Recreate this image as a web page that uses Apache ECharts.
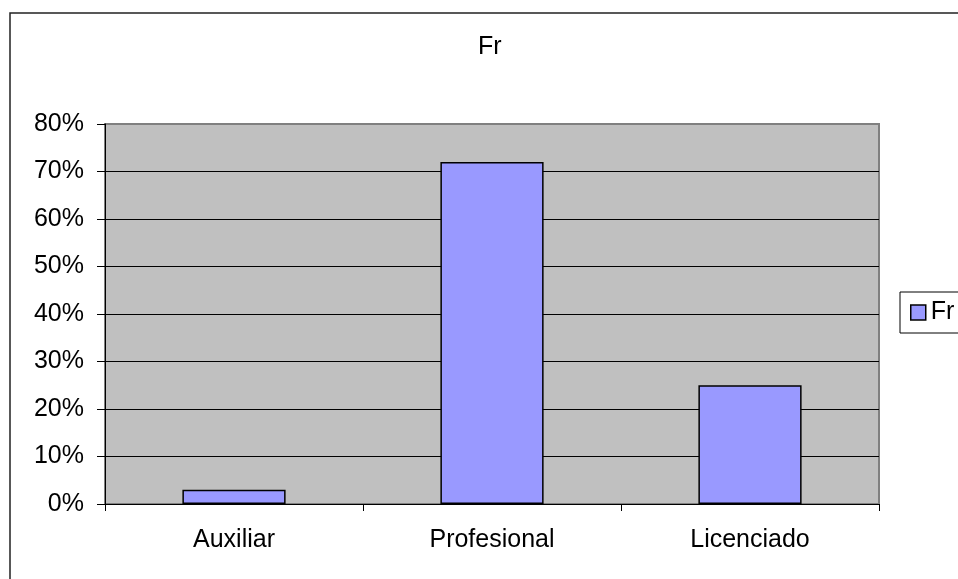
<!DOCTYPE html>
<html>
<head>
<meta charset="utf-8">
<script src="https://cdn.jsdelivr.net/npm/echarts@6/dist/echarts.min.js"></script>
<style>
html,body{margin:0;padding:0;background:#fff;}
#chart{width:958px;height:579px;}
</style>
</head>
<body>
<div id="chart"></div>
<script>
const categories = ['Auxiliar', 'Profesional', 'Licenciado'];
const frValues = [0.03, 0.72, 0.25];
const seriesName = 'Fr';
const chartTitle = 'Fr';

const FONT = '"Liberation Sans", Arial, sans-serif';
const chart = echarts.init(document.getElementById('chart'), null, {renderer: 'canvas'});
chart.setOption({
  animation: false,
  backgroundColor: '#ffffff',
  textStyle: {fontFamily: FONT},
  title: {
    text: chartTitle,
    left: 478,
    top: 35,
    padding: 0,
    textStyle: {fontFamily: FONT, fontSize: 25, fontWeight: 'normal', color: '#000'}
  },
  legend: {
    data: [seriesName],
    left: 900,
    top: 292,
    padding: [8, 10, 8, 10],
    borderColor: '#000',
    borderWidth: 1,
    itemWidth: 15,
    itemHeight: 15,
    icon: 'rect',
    itemStyle: {color: '#9999FF', borderColor: '#000', borderWidth: 1.5},
    textStyle: {fontFamily: FONT, fontSize: 25, color: '#000'}
  },
  graphic: [{
    type: 'rect',
    shape: {x: 10, y: 13, width: 1100, height: 1000},
    style: {fill: 'none', stroke: '#222', lineWidth: 1.5},
    silent: true,
    z: 100
  }],
  grid: {
    left: 105, top: 124, right: 79, bottom: 75,
    show: true,
    backgroundColor: '#C0C0C0',
    borderColor: '#808080',
    borderWidth: 2
  },
  xAxis: {
    type: 'category',
    data: categories,
    boundaryGap: true,
    axisLine: {lineStyle: {color: '#000', width: 1}},
    axisTick: {show: true, length: 7, alignWithLabel: false, lineStyle: {color: '#000'}},
    axisLabel: {fontFamily: FONT, fontSize: 25, color: '#000', margin: 24}
  },
  yAxis: {
    type: 'value',
    min: 0, max: 0.8, interval: 0.1,
    axisLine: {show: true, lineStyle: {color: '#000', width: 1}},
    axisTick: {show: true, length: 8, lineStyle: {color: '#000'}},
    axisLabel: {fontFamily: FONT, fontSize: 25, color: '#000', margin: 21,
      formatter: v => Math.round(v * 100) + '%'},
    splitLine: {show: true, showMaxLine: false, lineStyle: {color: '#000', width: 1}}
  },
  series: [{
    name: seriesName,
    type: 'bar',
    data: frValues,
    barWidth: '40%',
    itemStyle: {color: '#9999FF', borderColor: '#000', borderWidth: 1.5}
  }]
});
</script>
</body>
</html>
